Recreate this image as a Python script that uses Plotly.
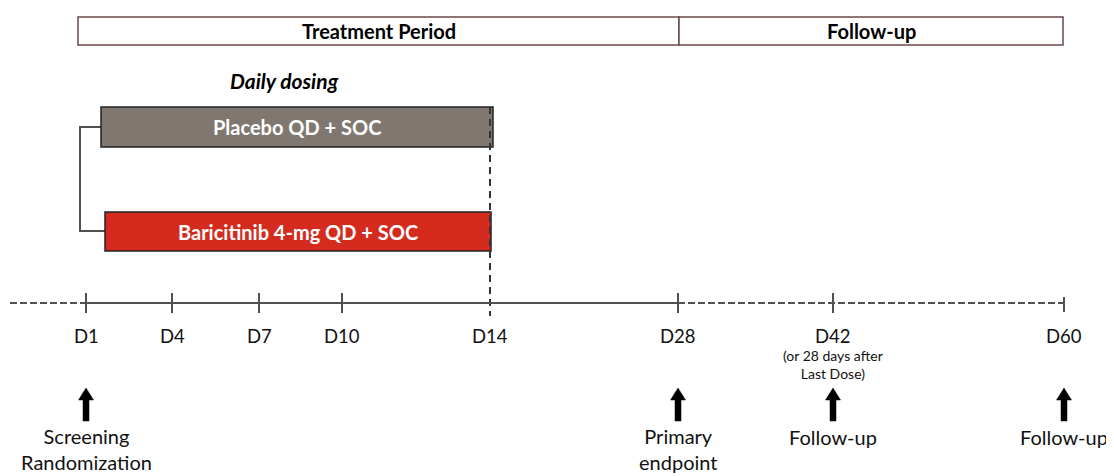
import plotly.graph_objects as go

# ---- data ----
periods = ["Treatment Period", "Follow-up"]
arms = ["Placebo QD + SOC", "Baricitinib 4-mg QD + SOC"]
dosing_label = "Daily dosing"
day_labels = ["D1", "D4", "D7", "D10", "D14", "D28", "D42", "D60"]
day_note = "(or 28 days after<br>Last Dose)"
milestones = ["Screening<br>Randomization", "Primary<br>endpoint", "Follow-up", "Follow-up"]
milestone_days = ["D1", "D28", "D42", "D60"]

# ---- layout (positions in page units) ----
W, H = 1114, 476
OFF = 8  # page body margin
tick_x = [86, 172, 259, 342, 490, 678, 833, 1064]
pos = dict(zip(day_labels, tick_x))
period_x = [(78, 679), (679, 1063)]
period_y = (17, 45)
arm_boxes = [(101, 493, 107, 147), (105, 491, 212, 251)]
arm_fill = ["#807870", "#d52b1f"]
line_col = "#505050"
FONT = "Lato, 'Open Sans', sans-serif"
tl_y = 303

fig = go.Figure()
shapes = []
ann = []

# header boxes
for (x0, x1), name in zip(period_x, periods):
    shapes.append(dict(type="rect", x0=x0, x1=x1, y0=period_y[0], y1=period_y[1],
                       line=dict(color="#6b4a4a", width=1.5), fillcolor="white"))
    ann.append(dict(x=(x0 + x1) / 2, y=(period_y[0] + period_y[1]) / 2, text="<b>%s</b>" % name,
                    showarrow=False, font=dict(size=20, color="black", family=FONT)))

ann.append(dict(x=284, y=80, text="<b><i>%s</i></b>" % dosing_label, showarrow=False,
                font=dict(size=21, color="black", family=FONT)))

# bracket
shapes.append(dict(type="path", path="M 101 127 L 80 127 L 80 231 L 105 231",
                   line=dict(color=line_col, width=2)))

# arm bars
for (x0, x1, y0, y1), name, col in zip(arm_boxes, arms, arm_fill):
    shapes.append(dict(type="rect", x0=x0, x1=x1, y0=y0, y1=y1,
                       line=dict(color="#222222", width=1.5), fillcolor=col))
    ann.append(dict(x=(x0 + x1) / 2, y=(y0 + y1) / 2, text="<b>%s</b>" % name, showarrow=False,
                    font=dict(size=20, color="white", family=FONT)))

# dashed vertical at D14
shapes.append(dict(type="line", x0=pos["D14"], x1=pos["D14"], y0=107, y1=316,
                   line=dict(color="#333333", width=2, dash="7px,5px")))

# timeline
shapes.append(dict(type="line", x0=10, x1=pos["D1"], y0=tl_y, y1=tl_y,
                   line=dict(color=line_col, width=2, dash="7px,3px")))
shapes.append(dict(type="line", x0=pos["D1"], x1=pos["D28"], y0=tl_y, y1=tl_y,
                   line=dict(color=line_col, width=2)))
shapes.append(dict(type="line", x0=pos["D28"], x1=pos["D60"], y0=tl_y, y1=tl_y,
                   line=dict(color=line_col, width=2, dash="7px,3px")))
for d in day_labels:
    if d == "D14":
        continue
    half_up, half_dn = (6, 9) if d == "D60" else (10, 10)
    shapes.append(dict(type="line", x0=pos[d], x1=pos[d], y0=tl_y - half_up, y1=tl_y + half_dn,
                       line=dict(color=line_col, width=2)))

for d in day_labels:
    ann.append(dict(x=pos[d], y=336, text=d, showarrow=False,
                    font=dict(size=18.5, color="#111111", family=FONT)))
ann.append(dict(x=pos["D42"], y=364, text=day_note, showarrow=False,
                font=dict(size=14, color="#111111", family=FONT)))

# milestone arrows and labels
for lab, d in zip(milestones, milestone_days):
    c = pos[d]
    p = "M {a} 388 L {b} 400 L {c1} 400 L {c1} 421 L {c2} 421 L {c2} 400 L {e} 400 Z".format(
        a=c, b=c - 7.5, c1=c - 3, c2=c + 3, e=c + 7.5)
    shapes.append(dict(type="path", path=p, fillcolor="black", line=dict(color="black", width=0.5)))
    ylab = 449 if "<br>" in lab else 437
    ann.append(dict(x=c, y=ylab, text=lab, showarrow=False,
                    font=dict(size=20, color="#111111", family=FONT)))

fig.update_layout(
    width=W - OFF, height=H - OFF, margin=dict(l=0, r=0, t=0, b=0),
    paper_bgcolor="white", plot_bgcolor="white",
    xaxis=dict(range=[OFF, W], visible=False, fixedrange=True),
    yaxis=dict(range=[H, OFF], visible=False, fixedrange=True),
    shapes=shapes, annotations=ann, showlegend=False,
)
fig.write_html("out.html")
